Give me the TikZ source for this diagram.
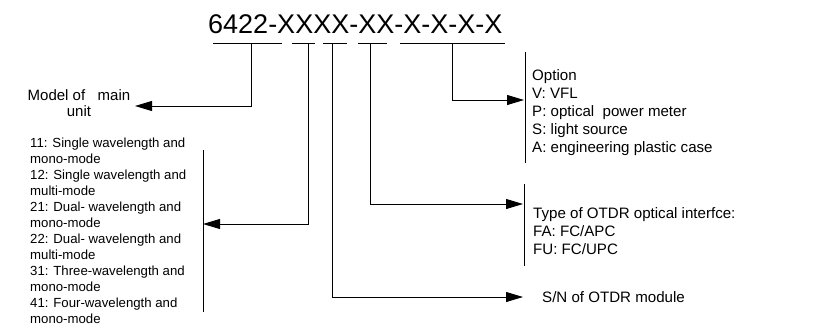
\documentclass[tikz,border=0pt]{standalone}
\usepackage{fontspec}
\setmainfont{Liberation Sans}
\usetikzlibrary{arrows.meta}
\begin{document}
\begin{tikzpicture}[x=1pt,y=-1pt,
  line/.style={line width=0.9pt},
  arr/.style={line width=0.9pt,-{Triangle[length=17pt,width=10pt]}},
  txt/.style={inner sep=0pt,font=\fontsize{15.1}{18}\selectfont,align=left},
  ltxt/.style={inner sep=0pt,font=\fontsize{13.2}{16}\selectfont,align=left},
  ttl/.style={inner sep=0pt,font=\fontsize{27}{30}\selectfont}]
\useasboundingbox (0,0) rectangle (832,332);
\node[ttl,anchor=base west] (title) at (208,33) {6422-XXXX-XX-X-X-X-X};
% underline coordinates
\coordinate (u1a) at (213,43); \coordinate (u1b) at (282,43);
\coordinate (u2a) at (292,43); \coordinate (u2b) at (315,43);
\coordinate (u3a) at (323,43); \coordinate (u3b) at (347,43);
\coordinate (u4a) at (358,43); \coordinate (u4b) at (387,43);
\coordinate (u5a) at (400,43); \coordinate (u5b) at (505,43);
\draw[line] (u1a) -- (u1b);
\draw[line] (u2a) -- (u2b);
\draw[line] (u3a) -- (u3b);
\draw[line] (u4a) -- (u4b);
\draw[line] (u5a) -- (u5b);
\coordinate (d1) at (251,43); \coordinate (d2) at (308,43);
\coordinate (d3) at (332,43); \coordinate (d4) at (370,43);
\coordinate (d5) at (452,43);
% bars
\coordinate (b1t) at (525,52); \coordinate (b1b) at (525,163);
\coordinate (b2t) at (524,184); \coordinate (b2b) at (524,266);
\coordinate (b3t) at (203,150); \coordinate (b3b) at (203,312);
\draw[line] (b1t) -- (b1b);
\draw[line] (b2t) -- (b2b);
\draw[line] (b3t) -- (b3b);
% arrow targets
\coordinate (t1) at (135,106);
\coordinate (t2) at (203,224);
\coordinate (t3) at (523,297);
\coordinate (t4) at (523,204);
\coordinate (t5) at (524,100);
\draw[arr] (d1) |- (t1);
\draw[arr] (d2) |- (t2);
\draw[arr] (d3) |- (t3);
\draw[arr] (d4) |- (t4);
\draw[arr] (d5) |- (t5);
% texts
\node[txt,align=center,font=\fontsize{15}{16.5}\selectfont] (model) at (79,103) {Model of\ \ \ main\\unit};
\node[txt,anchor=west] (option) at (532,112.5) {Option\\V: VFL\\P: optical\ \ power meter\\S: light source\\A: engineering plastic case};
\node[txt,anchor=west] (type) at (533,231.5) {Type of OTDR optical interfce:\\FA: FC/APC\\FU: FC/UPC};
\node[txt,anchor=west] (sn) at (542,297) {S/N of OTDR module};
\node[ltxt,anchor=west] (list) at (30,231) {11: Single wavelength and\\mono-mode\\12: Single wavelength and\\multi-mode\\21: Dual- wavelength and\\mono-mode\\22: Dual- wavelength and\\multi-mode\\31: Three-wavelength and\\mono-mode\\41: Four-wavelength and\\mono-mode};
\end{tikzpicture}
\end{document}
